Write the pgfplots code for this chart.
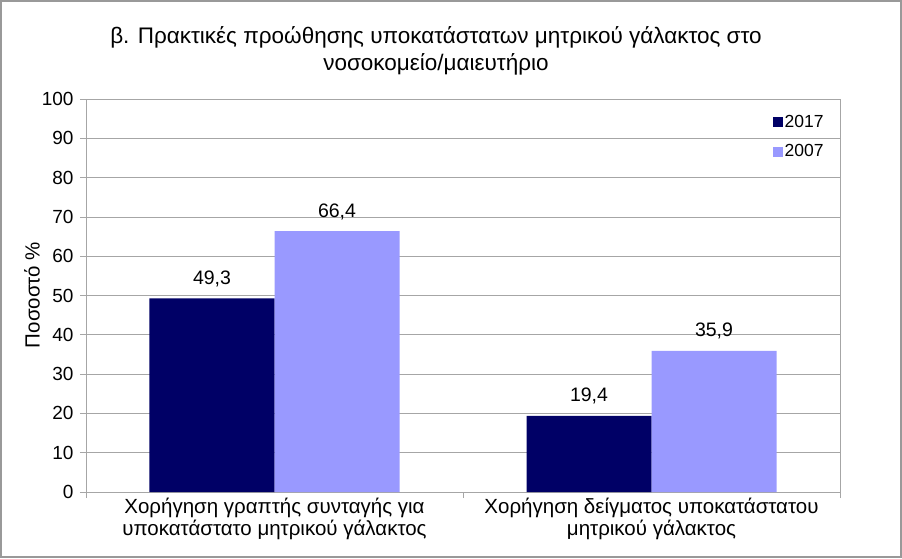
\documentclass[border=0pt]{standalone}
\usepackage{pgfplots}
\pgfplotsset{compat=1.18}
\usepackage{fontspec}
\setmainfont{Liberation Sans}
\definecolor{navy}{HTML}{000066}
\definecolor{lav}{HTML}{9999FF}
\definecolor{gridgray}{HTML}{A6A6A6}
\begin{document}
\begin{tikzpicture}[x=1pt,y=1pt]
\begin{axis}[
  at={(0,0)}, anchor=south west,
  scale only axis, width=754pt, height=393pt,
  xmin=-0.5, xmax=1.5, ymin=0, ymax=100,
  ybar=0pt, bar width=125pt,
  ytick={0,10,...,100},
  xtick pos=bottom, ytick pos=left,
  ymajorgrids, grid style={gridgray, line width=0.8pt},
  axis line style={gridgray, line width=0.8pt},
  tick style={gridgray, line width=0.8pt},
  tick align=outside, major tick length=6pt,
  xtick={-0.5,0.5,1.5}, xticklabels={},
  extra x ticks={0,1},
  extra x tick labels={{Χορήγηση γραπτής συνταγής για\\υποκατάστατο μητρικού γάλακτος},{Χορήγηση δείγματος υποκατάστατου\\μητρικού γάλακτος}},
  extra x tick style={major tick length=0pt, grid=none, xticklabel style={align=center, font=\fontsize{20.5}{22}\selectfont, yshift=-3pt}},
  yticklabel style={font=\fontsize{19}{22}\selectfont, xshift=-3pt},
  /pgf/number format/assume math mode=true,
  /pgf/number format/use comma,
  nodes near coords,
  nodes near coords style={font=\fontsize{19.5}{22}\selectfont, /pgf/number format/fixed, /pgf/number format/precision=1, /pgf/number format/fixed zerofill, yshift=8pt, black},
  legend style={draw=none, fill=none, at={(0.985,0.97)}, anchor=north east, font=\fontsize{17.5}{20}\selectfont, row sep=12pt, legend cell align=left},
  legend image code/.code={\fill[#1] (1pt,-5pt) rectangle (11pt,5pt);},
]
\addplot[fill=navy, draw=none] coordinates {(0,49.3) (1,19.4)};
\addplot[fill=lav, draw=none] coordinates {(0,66.4) (1,35.9)};
\legend{2017,2007}
\end{axis}
\node[font=\fontsize{20.5}{24}\selectfont, rotate=90] at (-54pt,197pt) {Ποσοστό \%};
\node[font=\fontsize{22.5}{27}\selectfont, align=center] at (350pt,441pt) {β. Πρακτικές προώθησης υποκατάστατων μητρικού γάλακτος στο\\νοσοκομείο/μαιευτήριο};
\draw[gray!80, line width=2pt] (-85pt,-65pt) rectangle (815pt,491pt);
\end{tikzpicture}
\end{document}
